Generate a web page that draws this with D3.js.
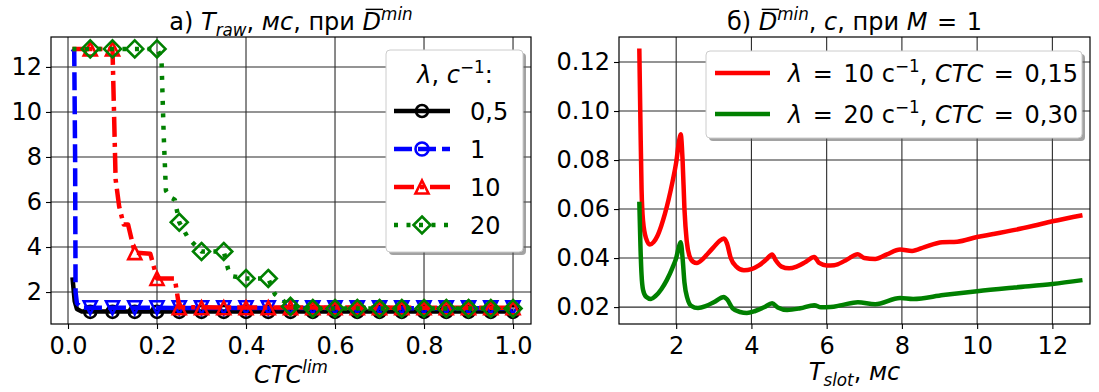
<!DOCTYPE html>
<html><head><meta charset="utf-8">
<script src="https://cdn.jsdelivr.net/npm/d3@7"></script>
<style>
body{margin:0;background:#fff;}
svg{display:block;font-family:"DejaVu Sans",sans-serif;}
</style></head><body>
<svg id="c" width="1099" height="392"></svg>
<script>
// ---------- data ----------
const ctcTicks = [0.0, 0.2, 0.4, 0.6, 0.8, 1.0];
const trawTicks = [2, 4, 6, 8, 10, 12];
const tslotTicks = [2, 4, 6, 8, 10, 12];
const dminTicks = [0.02, 0.04, 0.06, 0.08, 0.10, 0.12];
const lambdaLabels = ["0,5", "1", "10", "20"];
const markerCtc = [0.05,0.10,0.15,0.20,0.25,0.30,0.35,0.40,0.45,0.50,0.55,0.60,0.65,0.70,0.75,0.80,0.85,0.90,0.95,1.00];

// lines: [CTC^lim, T_raw]
const lineL05 = [[0.01,2.65],[0.015,1.6],[0.02,1.25],[0.03,1.14],[1.0,1.14]];
const lineL1  = [[0.01,12.8],[0.014,12.7],[0.016,8.0],[0.017,2.0],[0.02,1.5],[0.03,1.3],[1.0,1.28]];
const lineL10 = [[0.01,12.8],[0.10,12.8],[0.107,7.0],[0.115,5.8],[0.125,5.0],[0.135,5.0],[0.15,3.75],[0.185,3.7],[0.2,2.6],[0.24,2.6],[0.25,1.32],[1.0,1.3]];
const lineL20 = [[0.01,12.8],[0.20,12.8],[0.21,12.4],[0.215,9.0],[0.22,6.5],[0.23,6.2],[0.24,6.1],[0.25,5.1],[0.27,4.4],[0.30,3.8],[0.35,3.8],[0.36,3.0],[0.37,2.7],[0.40,2.6],[0.45,2.6],[0.465,1.9],[0.50,1.36],[0.55,1.27],[1.0,1.27]];
// marker values at markerCtc
const mark05 = [1.12,1.12,1.12,1.12,1.12,1.12,1.12,1.12,1.12,1.12,1.12,1.12,1.12,1.12,1.12,1.12,1.12,1.12,1.12,1.12];
const mark1  = [1.30,1.30,1.30,1.30,1.30,1.30,1.30,1.30,1.30,1.30,1.30,1.30,1.30,1.30,1.30,1.30,1.30,1.30,1.30,1.30];
const mark10 = [12.8,12.8,3.75,2.6,1.3,1.3,1.3,1.3,1.3,1.3,1.3,1.3,1.3,1.3,1.3,1.3,1.3,1.3,1.3,1.3];
const mark20 = [12.8,12.8,12.8,12.8,5.1,3.8,3.8,2.6,2.6,1.36,1.27,1.27,1.27,1.27,1.27,1.27,1.27,1.27,1.27,1.27];

// right panel: [T_slot ms, D_min s]
const dmin10 = [[1.02,0.1255],[1.05,0.095],[1.08,0.068],[1.12,0.055],[1.2,0.048],[1.3,0.0455],[1.4,0.0465],[1.5,0.049],[1.6,0.053],[1.7,0.058],[1.8,0.064],[1.9,0.071],[2.0,0.079],[2.08,0.088],[2.12,0.0905],[2.17,0.080],[2.22,0.060],[2.28,0.047],[2.35,0.041],[2.45,0.0385],[2.55,0.038],[2.7,0.0395],[2.85,0.042],[3.0,0.0445],[3.15,0.047],[3.27,0.048],[3.35,0.046],[3.45,0.040],[3.6,0.0365],[3.8,0.035],[4.0,0.0355],[4.2,0.037],[4.4,0.0395],[4.55,0.0415],[4.65,0.039],[4.8,0.0365],[5.0,0.0358],[5.2,0.0365],[5.45,0.0385],[5.67,0.0404],[5.8,0.038],[6.0,0.037],[6.2,0.0371],[6.5,0.039],[6.83,0.0416],[7.0,0.040],[7.29,0.0396],[7.6,0.0415],[7.95,0.0435],[8.27,0.0429],[8.6,0.0445],[9.07,0.0465],[9.47,0.0467],[10.0,0.0486],[10.43,0.0498],[11.0,0.0515],[11.5,0.0532],[12.0,0.055],[12.8,0.0575]];
const dmin20 = [[1.02,0.063],[1.05,0.045],[1.08,0.033],[1.12,0.027],[1.2,0.0242],[1.33,0.0233],[1.45,0.0245],[1.6,0.0272],[1.75,0.031],[1.9,0.036],[2.0,0.040],[2.08,0.045],[2.12,0.0465],[2.17,0.040],[2.22,0.030],[2.3,0.0235],[2.4,0.0205],[2.58,0.0196],[2.8,0.0205],[3.0,0.022],[3.27,0.0241],[3.35,0.0232],[3.5,0.0195],[3.7,0.018],[3.88,0.0176],[4.1,0.0184],[4.35,0.020],[4.55,0.0216],[4.7,0.0198],[4.95,0.0188],[5.3,0.0195],[5.67,0.0208],[5.85,0.0199],[6.1,0.020],[6.4,0.0208],[6.83,0.022],[7.29,0.0212],[7.95,0.0237],[8.3,0.0233],[9.1,0.0249],[10.0,0.0265],[11.0,0.028],[12.0,0.0294],[12.8,0.031]];

// ---------- helpers ----------
const svg = d3.select("#c");
const FS = 24;

function rich(parent, x, y, segs, anchor, size) {
  size = size || FS;
  const t = parent.append("text").attr("x", x).attr("y", y)
    .attr("text-anchor", anchor || "start").style("font-size", size + "px")
    .style("white-space", "pre").attr("fill", "#000");
  let cur = 0, idx = 0; const overs = [];
  segs.forEach(s => {
    const target = s.sub ? size * 0.24 : s.sup ? -size * 0.4 : 0;
    const ts = t.append("tspan").text(s.t).attr("dy", target - cur);
    if (s.dx) ts.attr("dx", s.dx);
    cur = target;
    if (s.sub || s.sup) ts.style("font-size", (size * 0.7) + "px");
    if (s.it) ts.style("font-style", "italic");
    if (s.over) overs.push(idx);
    idx += s.t.length;
  });
  overs.forEach(i => {
    const b = t.node().getExtentOfChar(i);
    const yy = y - size * 0.86;
    parent.append("line").attr("x1", b.x + 3).attr("x2", b.x + b.width + 2)
      .attr("y1", yy).attr("y2", yy).attr("stroke", "#000").attr("stroke-width", 1.4);
  });
  return t;
}

function sym(type, s) {
  if (type === "circle") return d3.symbol().type(d3.symbolCircle).size(Math.PI * s * s)();
  if (type === "up") return `M0,${-s}L${s},${s}L${-s},${s}Z`;
  if (type === "down") return `M0,${s}L${s},${-s}L${-s},${-s}Z`;
  if (type === "diamond") return `M0,${-s}L${s},0L0,${s}L${-s},0Z`;
}

// ---------- left panel ----------
const xL = d3.scaleLinear().domain([-0.0382, 1.0404]).range([51, 531]);
const yL = d3.scaleLinear().domain([0.58, 13.33]).range([324, 37]);
const gL = svg.append("g");

gL.append("g").selectAll("line.v").data(ctcTicks).join("line")
  .attr("x1", d => xL(d)).attr("x2", d => xL(d)).attr("y1", 37).attr("y2", 324)
  .attr("stroke", "#2a2a2a").attr("stroke-width", 1.1);
gL.append("g").selectAll("line.h").data(trawTicks).join("line")
  .attr("y1", d => yL(d)).attr("y2", d => yL(d)).attr("x1", 51).attr("x2", 531)
  .attr("stroke", "#2a2a2a").attr("stroke-width", 1.1);

const seriesL = [
  {line: lineL05, marks: mark05, color: "#000000", dash: null, sym: "circle", s: 6},
  {line: lineL1,  marks: mark1,  color: "#0000ff", dash: "18,6", sym: "down", s: 6.5},
  {line: lineL10, marks: mark10, color: "#ff0000", dash: "20,6,4,6", sym: "up", s: 6.5},
  {line: lineL20, marks: mark20, color: "#008000", dash: "4,8.5", sym: "diamond", s: 8.5}
];
const lineGenL = d3.line().x(d => xL(d[0])).y(d => yL(d[1]));
seriesL.forEach(sr => {
  gL.append("path").attr("d", lineGenL(sr.line)).attr("fill", "none")
    .attr("stroke", sr.color).attr("stroke-width", 4.5)
    .attr("stroke-dasharray", sr.dash).attr("stroke-linejoin", "round");
  gL.append("g").selectAll("path").data(markerCtc.map((c, i) => [c, sr.marks[i]])).join("path")
    .attr("transform", d => `translate(${xL(d[0])},${yL(d[1])})`)
    .attr("d", sym(sr.sym, sr.s)).attr("fill", "none")
    .attr("stroke", sr.color).attr("stroke-width", 2.6);
});

gL.append("rect").attr("x", 51).attr("y", 37).attr("width", 480).attr("height", 287)
  .attr("fill", "none").attr("stroke", "#000").attr("stroke-width", 1.2);

const axLx = gL.append("g").attr("transform", "translate(0,324)")
  .call(d3.axisBottom(xL).tickValues(ctcTicks).tickSize(5).tickPadding(8).tickFormat(d3.format(".1f")));
const axLy = gL.append("g").attr("transform", "translate(51,0)")
  .call(d3.axisLeft(yL).tickValues(trawTicks).tickSize(5).tickPadding(4).tickFormat(d3.format("d")));
[axLx, axLy].forEach(a => {
  a.select(".domain").remove();
  a.selectAll("text").style("font-size", FS + "px").style("font-family", "DejaVu Sans").attr("fill", "#000");
  a.selectAll("line").attr("stroke", "#000").attr("stroke-width", 1.1);
});

rich(gL, 291, 30, [{t: "а) "}, {t: "T", it: true}, {t: "raw", it: true, sub: true}, {t: ", "}, {t: "мс", it: true}, {t: ", при "}, {t: "D", it: true, over: true}, {t: "min", it: true, sup: true}], "middle");
rich(gL, 291, 383, [{t: "CTC", it: true}, {t: "lim", it: true, sup: true}], "middle");

// left legend
const lgL = gL.append("g");
lgL.append("rect").attr("x", 389).attr("y", 53).attr("width", 137).attr("height", 202).attr("rx", 4)
  .attr("fill", "#555").attr("opacity", 0.55);
lgL.append("rect").attr("x", 386).attr("y", 50).attr("width", 137).attr("height", 202).attr("rx", 4)
  .attr("fill", "#fff").attr("stroke", "#cccccc").attr("stroke-width", 1);
rich(lgL, 455, 83, [{t: "λ", it: true}, {t: ", "}, {t: "c", it: true}, {t: "−1", sup: true}, {t: ":"}], "middle");
const legYs = [111, 149, 187, 225];
seriesL.forEach((sr, i) => {
  const y = legYs[i];
  lgL.append("line").attr("x1", 394).attr("x2", 450).attr("y1", y).attr("y2", y)
    .attr("stroke", sr.color).attr("stroke-width", 4.5).attr("stroke-dasharray", sr.dash);
  const legSym = i === 1 ? "circle" : sr.sym;
  lgL.append("path").attr("transform", `translate(422,${y})`).attr("d", sym(legSym, sr.s))
    .attr("fill", "none").attr("stroke", sr.color).attr("stroke-width", 2.6);
  lgL.append("text").attr("x", 470).attr("y", y + 9).style("font-size", FS + "px").text(lambdaLabels[i]);
});

// ---------- right panel ----------
const xR = d3.scaleLinear().domain([0.48, 13.0]).range([619, 1090]);
const yR = d3.scaleLinear().domain([0.0131, 0.1302]).range([324, 37]);
const gR = svg.append("g");

gR.append("g").selectAll("line").data(tslotTicks).join("line")
  .attr("x1", d => xR(d)).attr("x2", d => xR(d)).attr("y1", 37).attr("y2", 324)
  .attr("stroke", "#2a2a2a").attr("stroke-width", 1.1);
gR.append("g").selectAll("line").data(dminTicks).join("line")
  .attr("y1", d => yR(d)).attr("y2", d => yR(d)).attr("x1", 619).attr("x2", 1090)
  .attr("stroke", "#2a2a2a").attr("stroke-width", 1.1);

const lineGenR = d3.line().x(d => xR(d[0])).y(d => yR(d[1])).curve(d3.curveMonotoneX);
const seriesR = [
  {data: dmin10, color: "#ff0000", label: [{t: "λ", it: true}, {t: " =", dx: 3}, {t: " 10 с", dx: 3}, {t: "−1", sup: true}, {t: ", "}, {t: "CTC", it: true}, {t: " =", dx: 3}, {t: " 0,15", dx: 3}]},
  {data: dmin20, color: "#008000", label: [{t: "λ", it: true}, {t: " =", dx: 3}, {t: " 20 с", dx: 3}, {t: "−1", sup: true}, {t: ", "}, {t: "CTC", it: true}, {t: " =", dx: 3}, {t: " 0,30", dx: 3}]}
];
seriesR.forEach(sr => {
  gR.append("path").attr("d", lineGenR(sr.data)).attr("fill", "none")
    .attr("stroke", sr.color).attr("stroke-width", 4.5).attr("stroke-linejoin", "round");
});

gR.append("rect").attr("x", 619).attr("y", 37).attr("width", 471).attr("height", 287)
  .attr("fill", "none").attr("stroke", "#000").attr("stroke-width", 1.2);

const axRx = gR.append("g").attr("transform", "translate(0,324)")
  .call(d3.axisBottom(xR).tickValues(tslotTicks).tickSize(5).tickPadding(8).tickFormat(d3.format("d")));
const axRy = gR.append("g").attr("transform", "translate(619,0)")
  .call(d3.axisLeft(yR).tickValues(dminTicks).tickSize(5).tickPadding(4).tickFormat(d3.format(".2f")));
[axRx, axRy].forEach(a => {
  a.select(".domain").remove();
  a.selectAll("text").style("font-size", FS + "px").style("font-family", "DejaVu Sans").attr("fill", "#000");
  a.selectAll("line").attr("stroke", "#000").attr("stroke-width", 1.1);
});

rich(gR, 854.5, 30, [{t: "б) "}, {t: "D", it: true, over: true}, {t: "min", it: true, sup: true}, {t: ", "}, {t: "c", it: true}, {t: ", при "}, {t: "M", it: true}, {t: " =", dx: 2}, {t: " 1", dx: 2}], "middle");
rich(gR, 854.5, 380, [{t: "T", it: true}, {t: "slot", it: true, sub: true}, {t: ", "}, {t: "мс", it: true}], "middle");

// right legend
const lgR = gR.append("g");
lgR.append("rect").attr("x", 709).attr("y", 54).attr("width", 376).attr("height", 87).attr("rx", 4)
  .attr("fill", "#555").attr("opacity", 0.55);
lgR.append("rect").attr("x", 706).attr("y", 51).attr("width", 376).attr("height", 87).attr("rx", 4)
  .attr("fill", "#fff").attr("stroke", "#cccccc").attr("stroke-width", 1);
[73, 114].forEach((y, i) => {
  lgR.append("line").attr("x1", 715).attr("x2", 770).attr("y1", y).attr("y2", y)
    .attr("stroke", seriesR[i].color).attr("stroke-width", 4.5);
  rich(lgR, 788, y + 9, seriesR[i].label, "start");
});
</script>
</body></html>
